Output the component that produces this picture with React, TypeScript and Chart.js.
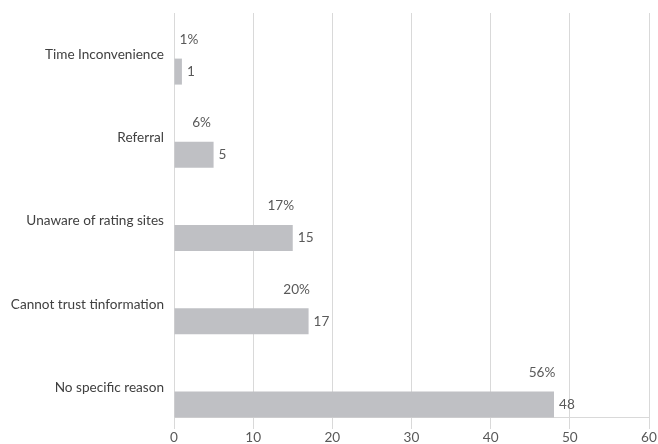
import React, { useEffect, useRef } from "react";
import { Chart, registerables } from "chart.js";

Chart.register(...registerables);

const categories = [
  "Time Inconvenience",
  "Referral",
  "Unaware of rating sites",
  "Cannot trust tinformation",
  "No specific reason",
];
const counts = [1, 5, 15, 17, 48];
const percents = [1, 6, 17, 20, 56];
const xTicks = [0, 10, 20, 30, 40, 50, 60];

const FONT = 'Lato, "Liberation Sans", Arial, sans-serif';
const FONT_SIZE = 13.6;
const TEXT_DARK = "#404040";
const TEXT_GRAY = "#595959";
const GRID = "#d9d9d9";
const BAR = "#bfc0c4";

const labelPlugin = {
  id: "barLabels",
  beforeDatasetsDraw(chart: any) {
    const { ctx, chartArea } = chart;
    ctx.save();
    ctx.strokeStyle = GRID;
    ctx.lineWidth = 1;
    const y = Math.round(chartArea.bottom - 12) + 0.5;
    ctx.beginPath();
    ctx.moveTo(chartArea.left, y);
    ctx.lineTo(chartArea.right, y);
    ctx.stroke();
    ctx.restore();
  },
  afterDatasetsDraw(chart: any) {
    const { ctx, chartArea } = chart;
    const metaP = chart.getDatasetMeta(0);
    const metaC = chart.getDatasetMeta(1);
    ctx.save();
    ctx.font = `${FONT_SIZE}px ${FONT}`;
    ctx.fillStyle = TEXT_GRAY;
    ctx.textBaseline = "middle";
    metaC.data.forEach((bar: any, i: number) => {
      ctx.textAlign = "left";
      ctx.fillText(String(counts[i]), bar.x + 5, bar.y);
      const px = Math.max(bar.x - 12, chartArea.left + 15);
      ctx.textAlign = "center";
      ctx.fillText(`${percents[i]}%`, px, metaP.data[i].y + 2);
    });
    ctx.restore();
  },
};

export default function App() {
  const ref = useRef<HTMLCanvasElement | null>(null);

  useEffect(() => {
    document.body.style.margin = "0";
    const canvas = ref.current;
    if (!canvas) return;
    const chart = new Chart(canvas, {
      type: "bar",
      data: {
        labels: categories,
        datasets: [
          {
            label: "Percent",
            data: percents,
            backgroundColor: "rgba(0,0,0,0)",
            categoryPercentage: 0.817,
            barPercentage: 0.765,
          },
          {
            label: "Count",
            data: counts,
            backgroundColor: BAR,
            categoryPercentage: 0.817,
            barPercentage: 0.765,
          },
        ],
      },
      options: {
        indexAxis: "y",
        responsive: false,
        animation: false,
        layout: { padding: { top: 13, right: 9, left: 0, bottom: 0 } },
        plugins: {
          legend: { display: false },
          tooltip: { enabled: false },
          title: { display: false },
        },
        scales: {
          x: {
            type: "linear",
            position: "bottom",
            min: xTicks[0],
            max: xTicks[xTicks.length - 1],
            afterBuildTicks: (scale: any) => {
              scale.ticks = xTicks.map((v) => ({ value: v }));
            },
            afterFit: (scale: any) => {
              scale.height = 15;
            },
            grid: { color: GRID, lineWidth: 1, drawTicks: false },
            border: { display: false },
            ticks: {
              padding: 0,
              color: TEXT_GRAY,
              font: { family: FONT, size: FONT_SIZE },
            },
          },
          y: {
            type: "category",
            afterFit: (scale: any) => {
              scale.width = 174;
              scale.paddingTop = 0;
              scale.paddingBottom = 0;
            },
            grid: { display: false, drawTicks: false },
            border: { display: false },
            ticks: {
              padding: 10,
              color: TEXT_DARK,
              font: { family: FONT, size: FONT_SIZE },
            },
          },
        },
      },
      plugins: [labelPlugin],
    } as any);
    return () => chart.destroy();
  }, []);

  return (
    <div style={{ position: "absolute", left: 0, top: 0, width: 658, height: 444 }}>
      <canvas ref={ref} width={658} height={444} style={{ display: "block" }} />
    </div>
  );
}
